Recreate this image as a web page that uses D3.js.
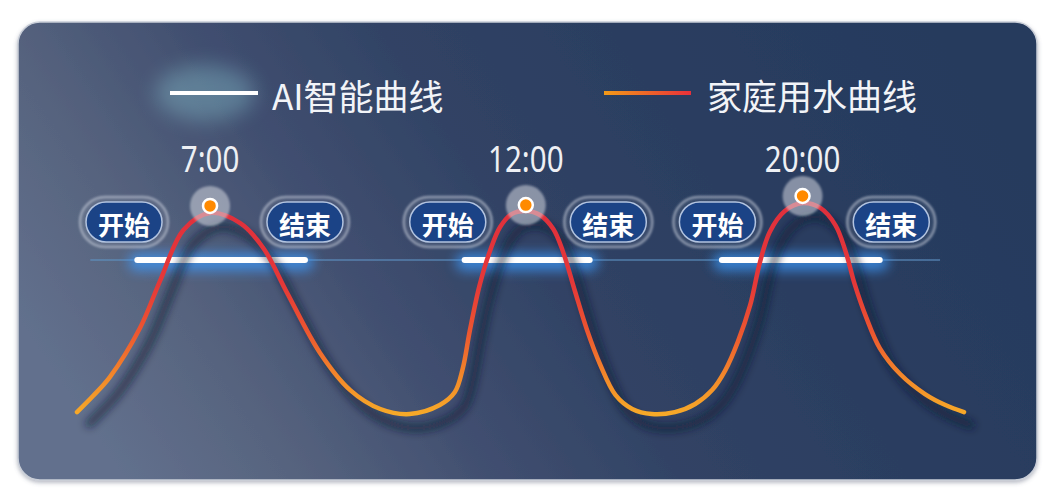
<!DOCTYPE html>
<html>
<head>
<meta charset="utf-8">
<script src="https://cdn.jsdelivr.net/npm/d3@7"></script>
<style>
  body { margin: 0; background: #fff; }
  svg { display: block; }
</style>
</head>
<body>
<script>
const W = 1056, H = 500;

// household water curve, position along the day (0-100) and usage level (0-100)
const curveU = [0, 1.8, 3.7, 7.1, 9.4, 12.0, 15.0, 18.4, 21.0, 23.7, 27.4, 30.8, 34.2, 37.5,
  40.9, 42.6, 43.5, 44.3, 45.4, 46.6, 47.7, 49.0, 50.6, 52.2, 53.7, 54.8, 56.1, 57.5, 59.0, 60.7, 62.6, 64.8,
  67.4, 69.7, 71.6, 73.1, 74.5, 75.9, 77.0, 78.1, 79.8, 81.8, 83.8, 85.5, 86.6, 87.7, 89.0, 90.5, 92.8, 95.6, 97.9, 100];
const curveV = [3.6, 10.9, 19.5, 41.8, 63.6, 86.4, 94.1, 89.5, 78.2, 57.7, 30.5, 13.6, 5.0, 2.7,
  6.8, 12.7, 23.6, 40.9, 61.4, 77.3, 87.7, 93.6, 95.0, 93.2, 86.8, 76.4, 59.1, 40.9, 25.0, 11.4, 5.0, 2.7,
  3.6, 7.3, 13.6, 22.7, 35.5, 52.3, 71.8, 85.5, 95.0, 98.6, 96.4, 88.6, 77.3, 61.4, 46.4, 32.7, 20.9, 11.8, 6.8, 3.6];

// peaks
const peakTimes = ['7:00', '12:00', '20:00'];
const peakU = [15.0, 50.6, 81.8];
const peakV = [97.3, 97.7, 101.8];

// AI smart curve: start / end of each window and its level
const aiStartU = [6.8, 43.7, 72.7];
const aiEndU = [25.7, 57.8, 90.5];
const aiLevel = 72.7;
const aiLineU = [1.5, 97.3];

// start / end tags
const startTag = '开始', endTag = '结束';
const startU = [5.3, 41.8, 72.2];
const endU = [25.7, 59.9, 91.8];

const legendNames = ['AI智能曲线', '家庭用水曲线'];

// layout
const tagV = 90, timeV = 119;
const cjk = '"Noto Sans CJK SC", "Noto Sans", sans-serif';

const x = d3.scaleLinear().domain([0, 100]).range([77, 964]);
const y = d3.scaleLinear().domain([0, 100]).range([420, 200]);

const svg = d3.select('body').append('svg')
  .attr('width', W).attr('height', H);

const defs = svg.append('defs');

const bg = defs.append('linearGradient').attr('id', 'bg')
  .attr('x1', 0).attr('y1', 0.65).attr('x2', 1).attr('y2', 0.35);
[[0, '#62708d'], [0.15, '#57647f'], [0.33, '#414f70'], [0.5, '#314365'], [0.75, '#2a3d60'], [1, '#263a5d']]
  .forEach(s => bg.append('stop').attr('offset', s[0]).attr('stop-color', s[1]));

const cg = defs.append('linearGradient').attr('id', 'curveGrad')
  .attr('gradientUnits', 'userSpaceOnUse')
  .attr('x1', 0).attr('y1', y(0)).attr('x2', 0).attr('y2', y(95));
[[0, '#f7ae28'], [0.2, '#f38a2a'], [0.42, '#ec5630'], [0.65, '#e53838'], [1, '#e0303c']]
  .forEach(s => cg.append('stop').attr('offset', s[0]).attr('stop-color', s[1]));

const lg = defs.append('linearGradient').attr('id', 'legGrad')
  .attr('gradientUnits', 'userSpaceOnUse')
  .attr('x1', 604).attr('y1', 0).attr('x2', 691).attr('y2', 0);
lg.append('stop').attr('offset', 0).attr('stop-color', '#f39a18');
lg.append('stop').attr('offset', 1).attr('stop-color', '#e8303a');

const fullFilter = (id, sd) => defs.append('filter').attr('id', id)
  .attr('filterUnits', 'userSpaceOnUse')
  .attr('x', 0).attr('y', 0).attr('width', W).attr('height', H)
  .append('feGaussianBlur').attr('stdDeviation', sd);
fullFilter('blur4', 4);
fullFilter('blur6', 6);
fullFilter('blur10', 10);
fullFilter('blur1', 1);
defs.append('filter').attr('id', 'ringBlur')
  .attr('x', '-20%').attr('y', '-30%').attr('width', '140%').attr('height', '160%')
  .append('feGaussianBlur').attr('stdDeviation', 1);
defs.append('filter').attr('id', 'panelShadow').attr('x', '-5%').attr('y', '-5%').attr('width', '110%').attr('height', '112%')
  .append('feDropShadow').attr('dx', 0).attr('dy', 2).attr('stdDeviation', 2)
  .attr('flood-color', '#5a6478').attr('flood-opacity', 0.45);

// panel
svg.append('rect')
  .attr('x', 18).attr('y', 22).attr('width', 1019).attr('height', 458).attr('rx', 22)
  .attr('fill', 'url(#bg)')
  .attr('stroke', '#c9ced8').attr('stroke-width', 1.5)
  .attr('filter', 'url(#panelShadow)');

// legend
const leg = svg.append('g');
leg.append('ellipse').attr('cx', 205).attr('cy', 93).attr('rx', 50).attr('ry', 28)
  .attr('fill', '#86c0cc').attr('opacity', 0.4).attr('filter', 'url(#blur10)');
leg.append('line').attr('x1', 170).attr('x2', 258).attr('y1', 93).attr('y2', 93)
  .attr('stroke', '#fff').attr('stroke-width', 4);
leg.append('text').attr('x', 272).attr('y', 94)
  .attr('dominant-baseline', 'central')
  .attr('font-family', cjk).attr('font-size', 35).attr('fill', '#f2f4f8')
  .text(legendNames[0]);
leg.append('line').attr('x1', 604).attr('x2', 691).attr('y1', 93).attr('y2', 93)
  .attr('stroke', 'url(#legGrad)').attr('stroke-width', 4);
leg.append('text').attr('x', 707).attr('y', 94)
  .attr('dominant-baseline', 'central')
  .attr('font-family', cjk).attr('font-size', 35).attr('fill', '#f2f4f8')
  .text(legendNames[1]);

// faint AI base line
svg.append('line')
  .attr('x1', x(aiLineU[0])).attr('x2', x(aiLineU[1]))
  .attr('y1', y(aiLevel)).attr('y2', y(aiLevel))
  .attr('stroke', '#5f93c4').attr('stroke-opacity', 0.55).attr('stroke-width', 2);

// AI windows: glow + white bar
const ai = svg.append('g').selectAll('g')
  .data(aiStartU.map((s, i) => ({s, e: aiEndU[i]})))
  .join('g');
ai.append('line')
  .attr('x1', d => x(d.s)).attr('x2', d => x(d.e))
  .attr('y1', y(aiLevel) + 2).attr('y2', y(aiLevel) + 2)
  .attr('stroke', '#3d9cff').attr('stroke-width', 18).attr('stroke-linecap', 'round')
  .attr('opacity', 0.7).attr('filter', 'url(#blur6)');

// water curve
const points = curveU.map((u, i) => [u, curveV[i]]);
const line = d3.line()
  .x(d => x(d[0]))
  .y(d => y(d[1]))
  .curve(d3.curveCatmullRom.alpha(0.5));

svg.append('path')
  .attr('d', line(points))
  .attr('fill', 'none')
  .attr('stroke', '#0c1730').attr('stroke-opacity', 0.7).attr('stroke-width', 7)
  .attr('transform', 'translate(10,14)')
  .attr('filter', 'url(#blur4)');

svg.append('path')
  .attr('d', line(points))
  .attr('fill', 'none')
  .attr('stroke', 'url(#curveGrad)').attr('stroke-width', 4.5)
  .attr('stroke-linecap', 'round');

ai.append('line')
  .attr('x1', d => x(d.s)).attr('x2', d => x(d.e))
  .attr('y1', y(aiLevel)).attr('y2', y(aiLevel))
  .attr('stroke', '#fff').attr('stroke-width', 6).attr('stroke-linecap', 'round');

// start / end tags
const tags = startU.map(u => ({u, t: startTag})).concat(endU.map(u => ({u, t: endTag})));
const tag = svg.append('g').selectAll('g')
  .data(tags)
  .join('g')
  .attr('transform', d => `translate(${x(d.u)},${y(tagV)})`);
tag.append('rect')
  .attr('x', -44).attr('y', -25).attr('width', 88).attr('height', 50).attr('rx', 25)
  .attr('fill', '#ffffff').attr('fill-opacity', 0.06)
  .attr('stroke', '#c4ccd8').attr('stroke-opacity', 0.6).attr('stroke-width', 2.5)
  .attr('filter', 'url(#ringBlur)');
tag.append('rect')
  .attr('x', -38).attr('y', -20).attr('width', 76).attr('height', 40).attr('rx', 20)
  .attr('fill', '#1b4386')
  .attr('stroke', '#b3c4e0').attr('stroke-width', 1.5);
tag.append('text')
  .attr('text-anchor', 'middle').attr('dominant-baseline', 'central')
  .attr('y', 1)
  .attr('font-family', cjk).attr('font-weight', 700).attr('font-size', 26)
  .attr('fill', '#fff')
  .text(d => d.t);

// peak markers and times
const peaks = svg.append('g').selectAll('g')
  .data(peakTimes.map((t, i) => ({t, u: peakU[i], v: peakV[i]})))
  .join('g');
peaks.append('circle')
  .attr('cx', d => x(d.u)).attr('cy', d => y(d.v)).attr('r', 20)
  .attr('fill', '#d2d6df').attr('fill-opacity', 0.55)
  .attr('filter', 'url(#blur1)');
peaks.append('circle')
  .attr('cx', d => x(d.u)).attr('cy', d => y(d.v)).attr('r', 7)
  .attr('fill', '#ff8a00')
  .attr('stroke', '#fff').attr('stroke-width', 2.5);
peaks.append('text')
  .attr('transform', d => `translate(${x(d.u)},${y(timeV)}) scale(0.82,1)`)
  .attr('text-anchor', 'middle').attr('dominant-baseline', 'central')
  .attr('font-family', '"Noto Sans", sans-serif')
  .attr('font-size', 36).attr('fill', '#eef0f4')
  .text(d => d.t);
</script>
</body>
</html>
